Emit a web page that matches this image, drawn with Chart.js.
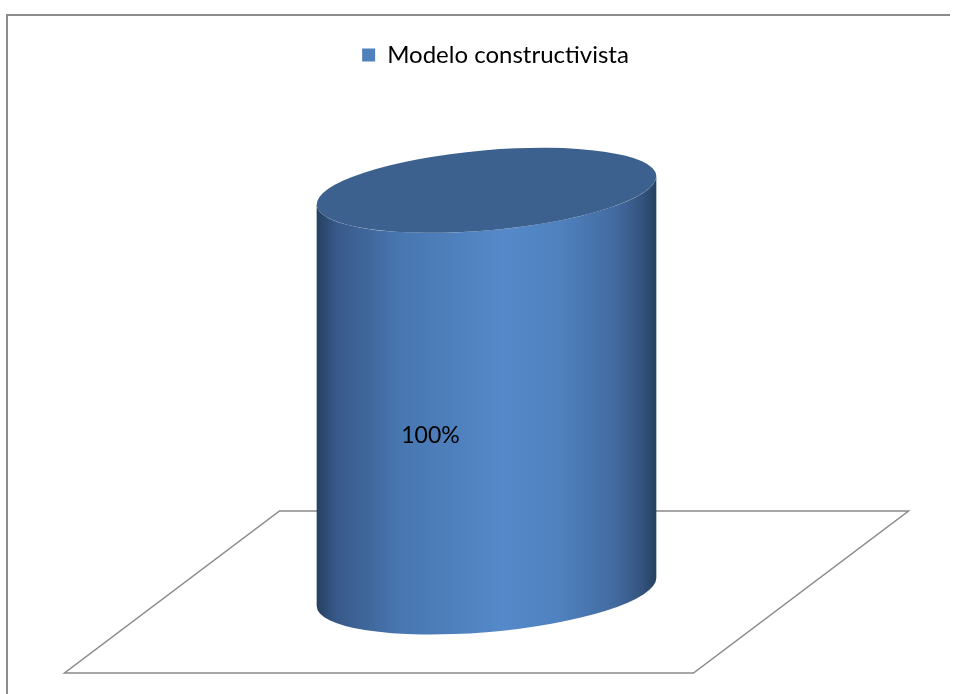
<!DOCTYPE html>
<html>
<head>
<meta charset="utf-8">
<script src="https://cdn.jsdelivr.net/npm/chart.js@4"></script>
<style>
  html, body { margin: 0; padding: 0; background: #fff; overflow: hidden; }
  #chart { position: absolute; left: 0; top: 0; }
</style>
</head>
<body>
<canvas id="chart" width="953" height="694"></canvas>
<script>
const categories = ["Modelo constructivista"];
const seriesName = "Modelo constructivista";
const values = [100];
const valueLabels = ["100%"];

// outer frame of the chart object (only its left and top sides are in view)
const framePlugin = {
  id: "frame",
  beforeDraw(chart) {
    const ctx = chart.ctx;
    ctx.save();
    ctx.strokeStyle = "#8c8c8c";
    ctx.lineWidth = 2;
    ctx.beginPath();
    ctx.moveTo(7, chart.height);
    ctx.lineTo(7, 15);
    ctx.lineTo(chart.width - 3, 15);
    ctx.stroke();
    ctx.restore();
  },
  afterLayout(chart) {
    // Excel puts the legend swatch closer to the text, nudge the block right
    chart.legend.left += 9;
    chart.legend.right += 9;
  }
};

// draws the flat floor under the bars, and each bar as a cylinder
const cylinderPlugin = {
  id: "cylinder",
  beforeDatasetsDraw(chart) {
    const ctx = chart.ctx;
    const area = chart.chartArea;
    const base = chart.scales.y.getPixelForValue(0);
    const dx = 107.5, dy = 81;
    ctx.save();
    ctx.strokeStyle = "#8a8a8a";
    ctx.lineWidth = 1.5;
    ctx.beginPath();
    ctx.moveTo(area.left + dx, base - dy);
    ctx.lineTo(area.right + dx, base - dy);
    ctx.lineTo(area.right - dx, base + dy);
    ctx.lineTo(area.left - dx, base + dy);
    ctx.closePath();
    ctx.stroke();
    ctx.restore();
  },
  beforeDatasetDraw() {
    return false;
  },
  afterDatasetsDraw(chart) {
    const ctx = chart.ctx;
    chart.getDatasetMeta(0).data.forEach((bar, i) => {
      const { x, y, base, width } = bar.getProps(["x", "y", "base", "width"], true);
      const w = width / 2;
      const b = 40;
      const th = -5 * Math.PI / 180;
      const s = Math.sin(th), c = Math.cos(th);
      const a = Math.sqrt((w * w - b * b * s * s) / (c * c));
      const t0 = Math.atan2(-b * s, a * c);
      const off = (a * a - b * b) * s * c / w;

      ctx.save();
      const grad = ctx.createLinearGradient(x - w, 0, x + w, 0);
      grad.addColorStop(0, "#26405f");
      grad.addColorStop(0.06, "#38598a");
      grad.addColorStop(0.25, "#4877b1");
      grad.addColorStop(0.55, "#5589c9");
      grad.addColorStop(0.72, "#4f81be");
      grad.addColorStop(0.88, "#426aa0");
      grad.addColorStop(0.96, "#33537c");
      grad.addColorStop(1, "#26405f");
      ctx.fillStyle = grad;
      ctx.beginPath();
      ctx.moveTo(x + w, y + off);
      ctx.lineTo(x + w, base + off);
      ctx.ellipse(x, base, a, b, th, t0, t0 + Math.PI, false);
      ctx.lineTo(x - w, y - off);
      ctx.ellipse(x, y, a, b, th, t0 + Math.PI, t0, true);
      ctx.closePath();
      ctx.fill();

      ctx.fillStyle = "#3d618e";
      ctx.beginPath();
      ctx.ellipse(x, y, a, b, th, 0, Math.PI * 2);
      ctx.fill();

      ctx.fillStyle = "#000";
      ctx.font = "23px Lato";
      ctx.textAlign = "center";
      ctx.textBaseline = "middle";
      ctx.fillText(valueLabels[i], x - width * 0.165, base - (base - y) * 0.39);
      ctx.restore();
    });
  }
};

Chart.defaults.font.family = "Lato";
Chart.defaults.color = "#000";

new Chart(document.getElementById("chart"), {
  type: "bar",
  data: {
    labels: categories,
    datasets: [
      {
        label: seriesName,
        data: values,
        backgroundColor: "#4f81bd",
        barPercentage: 0.54,
        categoryPercentage: 1,
      },
    ],
  },
  options: {
    responsive: false,
    animation: false,
    layout: { padding: { left: 172, right: 152, top: 33, bottom: 102 } },
    plugins: {
      legend: {
        position: "top",
        labels: { font: { size: 24 }, boxWidth: 13, boxHeight: 13, padding: 10 },
      },
      tooltip: { enabled: false },
    },
    scales: {
      x: {
        position: "top",
        grid: { display: false },
        border: { display: false },
        ticks: { display: false },
        afterFit: (scale) => { scale.height = 33; },
      },
      y: { display: false, min: 0, max: 120 },
    },
  },
  plugins: [framePlugin, cylinderPlugin],
});
</script>
</body>
</html>
